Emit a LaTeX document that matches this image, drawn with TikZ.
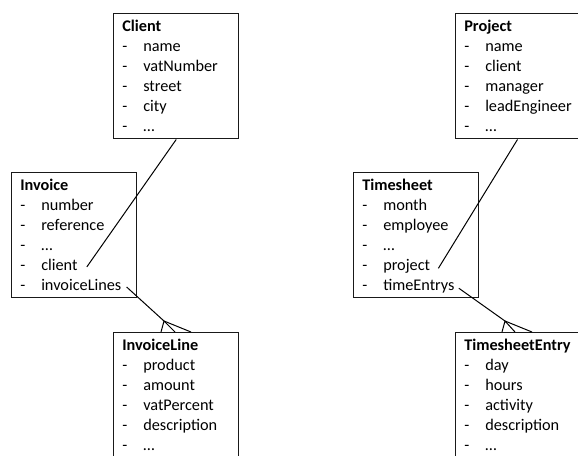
\documentclass[tikz,border=0pt]{standalone}
\usepackage{fontspec}
\setmainfont{Carlito}
\usetikzlibrary{calc}

\begin{document}
\begin{tikzpicture}[x=0.75pt,y=-0.75pt,
    every node/.style={font=\fontsize{12.2}{14}\selectfont},
    caja/.style={draw=black!90, line width=1.1pt, minimum width=93.75pt,
        minimum height=93.75pt, anchor=north west, inner sep=0pt},
    titulo/.style={anchor=base west, inner sep=0pt, font=\fontsize{12.2}{14}\selectfont\bfseries},
    campo/.style={anchor=base west, inner sep=0pt},
    rel/.style={line width=0.75pt}]
    \useasboundingbox (0,0) rectangle (578,455);

    % Facturas
    \node[caja] (client) at (113,13) {};
    \node[titulo] (client-t) at ($(client.north west)+(9,18)$) {Client};
    \foreach \t [count=\i] in {name, vatNumber, street, city, …}{
        \node[campo] (client-g\i) at ($(client.north west)+(9,18+20*\i)$) {-};
        \node[campo] (client-\i) at ($(client.north west)+(30,18+20*\i)$) {\t};
    }

    \node[caja] (invoice) at (11,172) {};
    \node[titulo] (invoice-t) at ($(invoice.north west)+(9,18)$) {Invoice};
    \foreach \t [count=\i] in {number, reference, …, client, invoiceLines}{
        \node[campo] (invoice-g\i) at ($(invoice.north west)+(9,18+20*\i)$) {-};
        \node[campo] (invoice-\i) at ($(invoice.north west)+(30,18+20*\i)$) {\t};
    }

    \node[caja] (invoiceline) at (113,332) {};
    \node[titulo] (invoiceline-t) at ($(invoiceline.north west)+(9,18)$) {InvoiceLine};
    \foreach \t [count=\i] in {product, amount, vatPercent, description, …}{
        \node[campo] (invoiceline-g\i) at ($(invoiceline.north west)+(9,18+20*\i)$) {-};
        \node[campo] (invoiceline-\i) at ($(invoiceline.north west)+(30,18+20*\i)$) {\t};
    }

    % Horas
    \node[caja, minimum width=97pt] (project) at (455,13) {};
    \node[titulo] (project-t) at ($(project.north west)+(9,18)$) {Project};
    \foreach \t [count=\i] in {name, client, manager, leadEngineer, …}{
        \node[campo] (project-g\i) at ($(project.north west)+(9,18+20*\i)$) {-};
        \node[campo] (project-\i) at ($(project.north west)+(30,18+20*\i)$) {\t};
    }

    \node[caja] (timesheet) at (353,172) {};
    \node[titulo] (timesheet-t) at ($(timesheet.north west)+(9,18)$) {Timesheet};
    \foreach \t [count=\i] in {month, employee, …, project, timeEntrys}{
        \node[campo] (timesheet-g\i) at ($(timesheet.north west)+(9,18+20*\i)$) {-};
        \node[campo] (timesheet-\i) at ($(timesheet.north west)+(30,18+20*\i)$) {\t};
    }

    \node[caja, minimum width=91.9pt] (entry) at (455,332) {};
    \node[titulo] (entry-t) at ($(entry.north west)+(9,18)$) {TimesheetEntry};
    \foreach \t [count=\i] in {day, hours, activity, description, …}{
        \node[campo] (entry-g\i) at ($(entry.north west)+(9,18+20*\i)$) {-};
        \node[campo] (entry-\i) at ($(entry.north west)+(30,18+20*\i)$) {\t};
    }

    % Referencias simples
    \draw[rel] ($(project.south west)+(62.5,0)$) coordinate (proj-ref) -- ($(timesheet-4.east)+(8,2.5)$);
    \draw[rel] (client.south) -- ($(invoice-4.east)+(9,2.5)$);

    % Pata de gallo (uno a muchos)
    \coordinate (pata1) at ($(invoiceline.north west)+(51,-11)$);
    \draw[rel] ($(invoice-5.east)+(5,2.5)$) -- (pata1);
    \draw[rel] ($(invoiceline.north west)+(48,0)$) -- (pata1) -- ($(invoiceline.north west)+(62,0)$);
    \draw[rel] (pata1) -- ($(invoiceline.north west)+(78,0)$);

    \coordinate (pata2) at ($(entry.north west)+(50,-11)$);
    \draw[rel] ($(timesheet-5.east)+(4,2.5)$) -- (pata2);
    \draw[rel] ($(entry.north west)+(47,0)$) -- (pata2) -- ($(entry.north west)+(60,0)$);
    \draw[rel] (pata2) -- ($(entry.north west)+(77,0)$);
\end{tikzpicture}
\end{document}
